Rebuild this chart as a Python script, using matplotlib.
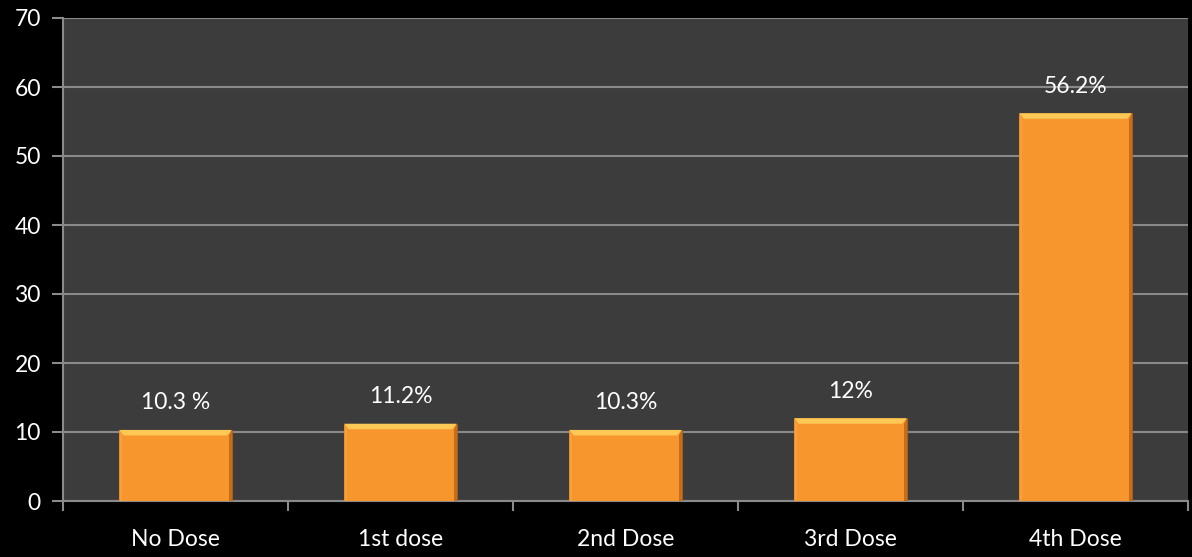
import numpy as np
import matplotlib
matplotlib.use("Agg")
import matplotlib.pyplot as plt
from matplotlib.patches import Polygon

plt.rcParams['font.family'] = ['Lato', 'DejaVu Sans']

categories = ['No Dose', '1st dose', '2nd Dose', '3rd Dose', '4th Dose']
values = [10.3, 11.2, 10.3, 12, 56.2]
labels = ['10.3 %', '11.2%', '10.3%', '12%', '56.2%']

fig = plt.figure(figsize=(11.92, 5.57), dpi=100, facecolor='black')
ax = fig.add_axes([63 / 1192, 1 - 501 / 557, (1188 - 63) / 1192, (501 - 18) / 557])
ax.set_facecolor('#3c3c3c')

x = np.arange(len(categories))
bars = ax.bar(x, values, width=0.5, color='#f7962c', edgecolor='#a85c18',
              linewidth=0.6, zorder=3)

# bevel: light strip on top, darker strip down the right side
bx, by = 0.02, 0.8
for b in bars:
    x0, w, h = b.get_x(), b.get_width(), b.get_height()
    x1 = x0 + w
    ax.add_patch(Polygon([(x0, h), (x1, h), (x1 - bx, h - by), (x0 + bx, h - by)],
                         closed=True, facecolor='#fcc957', edgecolor='none', zorder=4))
    ax.add_patch(Polygon([(x1, h), (x1, 0), (x1 - bx * 0.6, 0), (x1 - bx * 0.6, h - by)],
                         closed=True, facecolor='#c66d1c', edgecolor='none', zorder=4))
    ax.add_patch(Polygon([(x0, h), (x0 + bx * 0.6, h - by), (x0 + bx * 0.6, 0), (x0, 0)],
                         closed=True, facecolor='#f9a03a', edgecolor='none', zorder=4))

for xi, v, lab in zip(x, values, labels):
    ax.annotate(lab, (xi, v), xytext=(0, 12), textcoords='offset points',
                ha='center', va='bottom', color='white', fontsize=16.5)

ax.set_ylim(0, 70)
ax.set_xlim(-0.5, len(categories) - 0.5)
ax.set_yticks(np.arange(0, 71, 10))
ax.yaxis.grid(True, color='#8a8a8a', linewidth=1.5, zorder=1)
ax.set_axisbelow(True)

ax.set_xticks(x)
ax.set_xticklabels(categories)
ax.set_xticks(np.arange(-0.5, len(categories), 1), minor=True)
ax.tick_params(axis='x', which='major', length=0, pad=20, labelsize=16.5,
               labelcolor='white')
ax.tick_params(axis='x', which='minor', length=7, width=1.5, color='#8a8a8a')
ax.tick_params(axis='y', length=8, width=1.5, color='#8a8a8a', labelsize=16.5,
               labelcolor='white', pad=8)

for side in ['top', 'right']:
    ax.spines[side].set_visible(False)
for side in ['left', 'bottom']:
    ax.spines[side].set_color('#8a8a8a')
    ax.spines[side].set_linewidth(1.5)

fig.savefig('out.png', dpi=100, facecolor='black')
